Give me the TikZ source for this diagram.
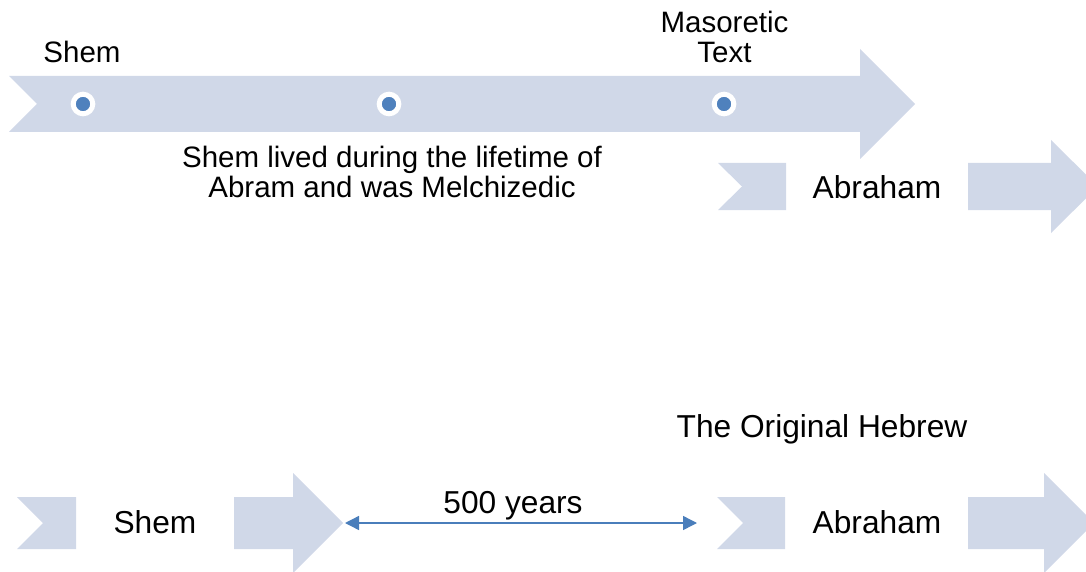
\documentclass[tikz,border=0pt]{standalone}
\usepackage{fontspec}
\setmainfont{Liberation Sans}
\usetikzlibrary{arrows.meta}
\definecolor{bandgray}{RGB}{208,216,232}
\definecolor{dotblue}{RGB}{79,129,189}
\definecolor{spanblue}{RGB}{74,126,187}
\newcommand{\mkdot}[2]{\node[tdot] (#1) at (#2,104) {} ;}
\tikzset{
    band/.style={
        fill=bandgray,
    },
    tdot/.style={
        inner sep=0,
        circle,
        fill=dotblue,
        draw=white,
        line width=5pt,
        minimum size=19.6pt,
    },
    small label/.style={
        inner sep=0,
        anchor=base,
        align=center,
        font=\fontsize{29.5}{30}\selectfont,
    },
    big label/.style={
        inner sep=0,
        anchor=base,
        font=\fontsize{31.7}{36}\selectfont,
    },
    span/.style={
        draw=spanblue,
        line width=1.4pt,
        {Triangle[length=14pt,width=14pt]}-{Triangle[length=14pt,width=14pt]},
    },
}

\begin{document}
\begin{tikzpicture}[x=1pt,y=-1pt]
    \useasboundingbox (0,0) rectangle (1086,572);

    % top timeline
    \fill[band] (9,76) -- (860,76) -- (860,49) -- (915,104) -- (860,159)
        -- (860,132) -- (9,132) -- (37,104) -- cycle;
    \mkdot{d1}{83}
    \mkdot{d2}{389}
    \mkdot{d3}{724}

    \node[small label] (shemtop) at (82,63) {Shem};
    \node[small label] (masoretic) at (724.5,63) {Masoretic\\Text};
    \node[small label] (lived) at (392,197) {Shem lived during the lifetime of\\Abram and was Melchizedic};

    % top row, right
    \fill[band] (718,163) -- (786,163) -- (786,210) -- (718,210) -- (742,186.5) -- cycle;
    \node[big label] (abrtop) at (877,198) {Abraham};
    \fill[band] (968,163) -- (1051,163) -- (1051,140) -- (1098,186.5) -- (1051,233)
        -- (1051,210) -- (968,210) -- cycle;

    % bottom row
    \node[big label] (hebrew) at (822,437) {The Original Hebrew};

    \fill[band] (17,497) -- (76,497) -- (76,549) -- (17,549) -- (43,523) -- cycle;
    \node[big label] (shembot) at (155,533) {Shem};
    \fill[band] (234,497) -- (293,497) -- (293,473) -- (343,523) -- (293,573)
        -- (293,549) -- (234,549) -- cycle;
    \coordinate (shemtip) at (343,523);

    \fill[band] (717,497) -- (785,497) -- (785,549) -- (717,549) -- (743,523) -- cycle;
    \coordinate (abrtail) at (717,523);
    \node[big label] (abrbot) at (877,533) {Abraham};
    \fill[band] (968,497) -- (1044,497) -- (1044,473) -- (1094,523) -- (1044,573)
        -- (1044,549) -- (968,549) -- cycle;

    \draw[span, shorten <=2pt, shorten >=20pt] (shemtip) -- (abrtail);
    \node[big label] (years) at (513,513) {500 years};
\end{tikzpicture}
\end{document}
